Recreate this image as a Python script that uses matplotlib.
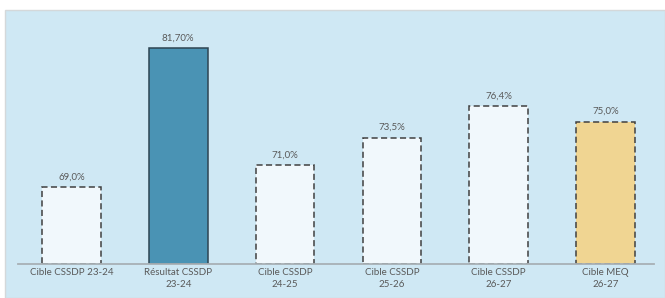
import matplotlib
matplotlib.use("Agg")
import matplotlib.pyplot as plt
from matplotlib.patches import Rectangle

categories = ["Cible CSSDP 23-24", "Résultat CSSDP\n23-24", "Cible CSSDP\n24-25",
              "Cible CSSDP\n25-26", "Cible CSSDP\n26-27", "Cible MEQ\n26-27"]
values = [69.0, 81.7, 71.0, 73.5, 76.4, 75.0]
value_labels = ["69,0%", "81,70%", "71,0%", "73,5%", "76,4%", "75,0%"]

fills = ["#F1F8FC", "#4A93B4", "#F1F8FC", "#F1F8FC", "#F1F8FC", "#F0D592"]
edges = ["#404040", "#2E4452", "#404040", "#404040", "#404040", "#404040"]
styles = ["--", "-", "--", "--", "--", "--"]

plt.rcParams['font.family'] = ['Lato', 'DejaVu Sans']

W, H = 665, 298
fig = plt.figure(figsize=(W / 100, H / 100), dpi=100)
fig.patch.set_facecolor("white")
bg = Rectangle((5 / W, 0), 660 / W, 288 / H, transform=fig.transFigure,
               facecolor="#CFE8F4", edgecolor="#D4D8DA", linewidth=1.0, zorder=-10)
fig.patches.append(bg)

ax = fig.add_axes([18 / W, 34 / H, 641 / W, 254 / H])
ax.set_facecolor("none")
ax.set_zorder(1)
base = 62.0
x = list(range(len(values)))
for i, v in enumerate(values):
    ax.bar(i, v - base, bottom=base, width=0.55, color=fills[i], edgecolor=edges[i],
           linestyle=(0, (4, 2.2)) if styles[i] == "--" else "-",
           linewidth=1.1, zorder=2)
    ax.text(i, v + 0.55, value_labels[i], ha="center", va="bottom",
            fontsize=7, color="#595959")

ax.set_xlim(-0.5, 5.5)
ax.set_ylim(base, 85.2)
ax.set_xticks(x)
ax.set_xticklabels(categories, fontsize=7, color="#595959", linespacing=1.45)
ax.tick_params(axis="x", length=0, pad=3)
ax.set_yticks([])
for s in ["top", "right", "left"]:
    ax.spines[s].set_visible(False)
ax.spines["bottom"].set_color("#A8B0B5")
ax.spines["bottom"].set_linewidth(1.3)
ax.spines["bottom"].set_bounds(-0.5, 5.45)

fig.savefig("out.png", dpi=100)
